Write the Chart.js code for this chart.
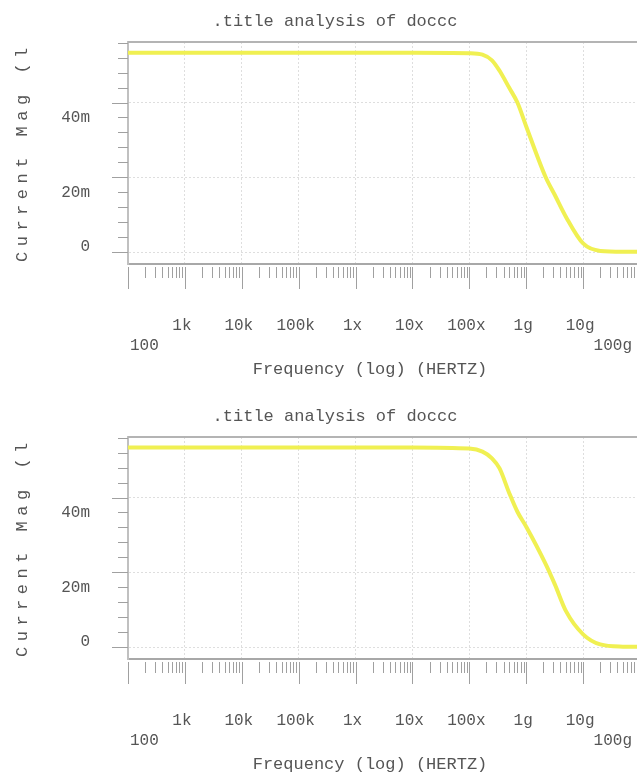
<!DOCTYPE html>
<html>
<head>
<meta charset="utf-8">
<title>Current Mag vs Frequency</title>
<script src="https://cdn.jsdelivr.net/npm/chart.js@4.4.1/dist/chart.umd.min.js"></script>
<style>
    html, body { margin: 0; padding: 0; background: #fff; overflow: hidden; }
    canvas { display: block; }
</style>
</head>
<body>
<canvas id="topChart" width="645" height="395"></canvas>
<canvas id="bottomChart" width="645" height="383"></canvas>
<script>
// Frequency sweep (Hz) and current magnitude (mA) for the two runs
const freqs = [1e2, 1e3, 1e4, 1e5, 1e6, 1e7, 1e8, 1.7e8, 2.5e8, 3.4e8, 5e8, 7e8,
               1e9, 2.2e9, 3.2e9, 5e9, 1e10, 2e10, 5e10, 1e11];
const magRun1 = [53.3, 53.3, 53.3, 53.3, 53.3, 53.3, 53.2, 52.8, 51.3, 48.5, 44.0, 40.0,
                 33.6, 20.0, 15.2, 9.4, 2.3, 0.3, 0.1, 0.1];
const magRun2 = [53.4, 53.4, 53.4, 53.4, 53.4, 53.4, 53.1, 52.3, 50.5, 47.8, 41.3, 36.2,
                 32.2, 22.2, 16.7, 9.6, 3.4, 0.7, 0.1, 0.05];

// Axis ticks
const xTickValues = [1e2, 1e3, 1e4, 1e5, 1e6, 1e7, 1e8, 1e9, 1e10, 1e11];
const xTickLabels = ['100', '1k', '10k', '100k', '1x', '10x', '100x', '1g', '10g', '100g'];
const yTickValues = [0, 20, 40];
const yTickLabels = ['0', '20m', '40m'];

const chartTitle = '.title analysis of doccc';
const xTitle = 'Frequency (log) (HERTZ)';
const yTitle = 'Current Mag (l';

const FONT = '"Liberation Mono", "DejaVu Sans Mono", monospace';
const INK = '#555';

// Draws the frame, tick marks and all the text the way the SPICE plotter does
const spicePlot = {
    id: 'spicePlot',
    afterDraw(chart) {
        const { ctx, chartArea: area, scales: { x, y } } = chart;
        ctx.save();

        // top edge of the frame
        ctx.strokeStyle = '#b4b4b4';
        ctx.lineWidth = 2;
        ctx.beginPath();
        ctx.moveTo(area.left, area.top);
        ctx.lineTo(area.right, area.top);
        ctx.stroke();

        // y tick marks, every 4m
        ctx.strokeStyle = '#a0a0a0';
        ctx.lineWidth = 1;
        for (let v = 0; v <= y.max; v += 4) {
            const py = Math.round(y.getPixelForValue(v)) + 0.5;
            const len = yTickValues.includes(v) ? 16 : 10;
            ctx.beginPath();
            ctx.moveTo(area.left - len, py);
            ctx.lineTo(area.left, py);
            ctx.stroke();
        }

        // x tick marks under the axis, 1..9 per decade
        const base = area.bottom + 3;
        xTickValues.forEach((d, i) => {
            for (let m = 1; m <= 9; m++) {
                if (m > 1 && i === xTickValues.length - 1) break;
                const px = Math.round(x.getPixelForValue(d * m)) + 0.5;
                ctx.beginPath();
                ctx.moveTo(px, base);
                ctx.lineTo(px, base + (m === 1 ? 22 : 11));
                ctx.stroke();
            }
        });

        ctx.fillStyle = INK;
        ctx.textBaseline = 'middle';

        // title
        ctx.font = '17px ' + FONT;
        ctx.textAlign = 'center';
        ctx.fillText(chartTitle, 335, 21);

        // y tick labels (sit just under their grid line)
        ctx.font = '16px ' + FONT;
        ctx.textAlign = 'right';
        yTickValues.forEach((v, i) => {
            const py = Math.min(y.getPixelForValue(v) + 15, area.bottom - 17);
            ctx.fillText(yTickLabels[i], area.left - 38, py);
        });

        // x tick labels, ends on a lower row
        const last = xTickLabels.length - 1;
        xTickLabels.forEach((lab, i) => {
            const px = x.getPixelForValue(xTickValues[i]);
            if (i === 0) {
                ctx.textAlign = 'left';
                ctx.fillText(lab, area.left + 2, area.bottom + 82);
            } else if (i === last) {
                ctx.textAlign = 'right';
                ctx.fillText(lab, px - 8, area.bottom + 82);
            } else {
                ctx.textAlign = 'center';
                ctx.fillText(lab, px - 3, area.bottom + 62);
            }
        });

        // x title
        ctx.font = '17px ' + FONT;
        ctx.textAlign = 'center';
        ctx.fillText(xTitle, 370, area.bottom + 105);

        // y title, rotated and widely spaced
        ctx.translate(22, area.bottom - 2);
        ctx.rotate(-Math.PI / 2);
        ctx.textAlign = 'left';
        [...yTitle].forEach((ch, i) => ctx.fillText(ch, i * 15.7, 0));

        ctx.restore();
    }
};

function buildChart(id, values) {
    const canvas = document.getElementById(id);
    return new Chart(canvas, {
        type: 'line',
        data: {
            datasets: [{
                data: freqs.map((f, i) => ({ x: f, y: values[i] })),
                borderColor: '#f0f052',
                borderWidth: 4,
                pointRadius: 0,
                cubicInterpolationMode: 'monotone',
                fill: false
            }]
        },
        options: {
            responsive: false,
            animation: false,
            events: [],
            layout: {
                padding: { left: 128, top: 42, right: 5, bottom: canvas.height - 264 }
            },
            plugins: {
                legend: { display: false },
                tooltip: { enabled: false }
            },
            scales: {
                x: {
                    type: 'logarithmic',
                    min: 1e2,
                    max: 1e11,
                    afterBuildTicks: s => { s.ticks = xTickValues.map(v => ({ value: v })); },
                    ticks: { display: false },
                    grid: { color: '#dedede', drawTicks: false },
                    border: { display: true, color: '#a8a8a8', width: 2, dash: [2, 2] }
                },
                y: {
                    type: 'linear',
                    min: -3.2,
                    max: 56.2,
                    afterBuildTicks: s => { s.ticks = yTickValues.map(v => ({ value: v })); },
                    ticks: { display: false },
                    grid: { color: '#dedede', drawTicks: false },
                    border: { display: true, color: '#c0c0c0', width: 2, dash: [2, 2] }
                }
            }
        },
        plugins: [spicePlot]
    });
}

buildChart('topChart', magRun1);
buildChart('bottomChart', magRun2);
</script>
</body>
</html>
